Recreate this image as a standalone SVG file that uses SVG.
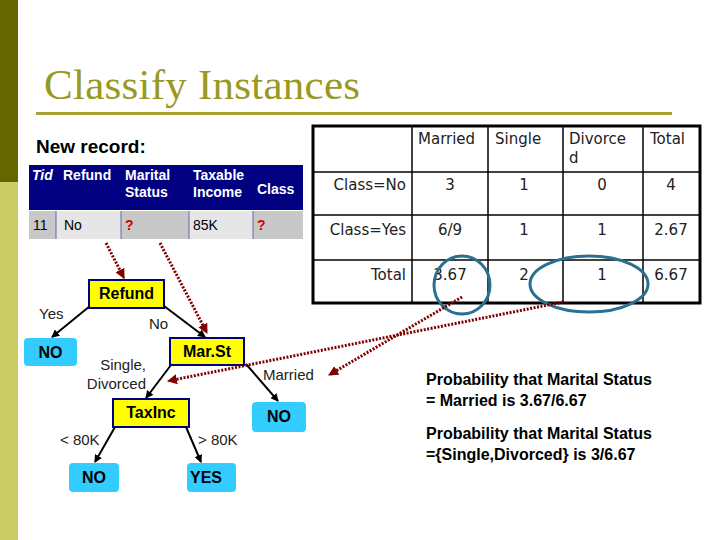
<svg xmlns="http://www.w3.org/2000/svg" width="720" height="540" viewBox="0 0 720 540">
<defs>
<marker id="ah" markerWidth="8" markerHeight="8" refX="7" refY="4" orient="auto" markerUnits="userSpaceOnUse"><path d="M0,0 L8,4 L0,8 z" fill="#000"/></marker>
<marker id="rh" markerWidth="10" markerHeight="10" refX="9" refY="5" orient="auto" markerUnits="userSpaceOnUse"><path d="M0,0 L10,5 L0,10 z" fill="#800000"/></marker>
<style>
.s{font-family:"Liberation Sans",Arial,sans-serif}
.dv{font-family:"DejaVu Sans",sans-serif;font-size:15px;fill:#222}
.hd{font-family:"Liberation Sans",Arial,sans-serif;font-weight:bold;font-size:14px;fill:#fff}
.yb{fill:#ffff00;stroke:#000080;stroke-width:2}
.lf{fill:#33ccff}
.nt{font-family:"Liberation Sans",Arial,sans-serif;font-weight:bold;font-size:16px;fill:#000;text-anchor:middle}
.el{font-family:"Liberation Sans",Arial,sans-serif;font-size:15px;fill:#222}
.e{stroke:#000;stroke-width:2;fill:none;marker-end:url(#ah)}
.r{stroke:#800000;stroke-width:3;stroke-dasharray:2 1.5;fill:none;marker-end:url(#rh)}
.g{stroke:#000;stroke-width:1.5;fill:none}
.p{font-family:"Liberation Sans",Arial,sans-serif;font-weight:bold;font-size:16px;fill:#000}
</style>
</defs>
<rect width="720" height="540" fill="#fff"/>
<rect x="0" y="0" width="18" height="182" fill="#666600"/>
<rect x="0" y="182" width="18" height="358" fill="#cccc66"/>
<text x="44" y="99" font-family="Liberation Serif,serif" font-size="43" fill="#999922" textLength="316">Classify Instances</text>
<rect x="36" y="112" width="636" height="3" fill="#a8a030"/>
<text x="36" y="153" class="s" font-weight="bold" font-size="19" fill="#000">New record:</text>
<g id="record">
<rect x="29" y="165" width="274" height="45" fill="#000080"/>
<rect x="29" y="211" width="274" height="28" fill="#e6e6e6"/>
<rect x="29" y="211" width="27" height="28" fill="#c8c8c8"/>
<rect x="121" y="211" width="68" height="28" fill="#c8c8c8"/>
<rect x="253" y="211" width="50" height="28" fill="#c8c8c8"/>
<g stroke="#6666aa" stroke-width="1"><line x1="56" y1="211" x2="56" y2="239"/><line x1="121" y1="211" x2="121" y2="239"/><line x1="189" y1="211" x2="189" y2="239"/><line x1="253" y1="211" x2="253" y2="239"/></g>
<text x="32" y="180" class="hd" font-style="italic" font-weight="normal">Tid</text>
<text x="63" y="180" class="hd">Refund</text>
<text x="125" y="180" class="hd">Marital</text><text x="125" y="197" class="hd">Status</text>
<text x="193" y="180" class="hd">Taxable</text><text x="193" y="197" class="hd">Income</text>
<text x="257" y="194" class="hd">Class</text>
<g class="s" font-size="14"><text x="33" y="230">11</text><text x="64" y="230">No</text><text x="125" y="230" fill="#cc0000" font-weight="bold">?</text><text x="193" y="230">85K</text><text x="257" y="230" fill="#cc0000" font-weight="bold">?</text></g>
</g>
<g id="counts">
<rect x="313" y="126" width="387" height="177" fill="none" stroke="#000" stroke-width="3"/>
<g class="g"><line x1="313" y1="172" x2="700" y2="172"/><line x1="313" y1="215" x2="700" y2="215"/><line x1="313" y1="260" x2="700" y2="260"/><line x1="412" y1="126" x2="412" y2="303"/><line x1="488" y1="126" x2="488" y2="303"/><line x1="563" y1="126" x2="563" y2="303"/><line x1="643" y1="126" x2="643" y2="303"/></g>
<text x="418" y="144" class="dv">Married</text><text x="495" y="144" class="dv">Single</text><text x="569" y="144" class="dv">Divorce</text><text x="569" y="163" class="dv">d</text><text x="650" y="144" class="dv">Total</text>
<g class="dv" text-anchor="end"><text x="406" y="190">Class=No</text><text x="406" y="235">Class=Yes</text><text x="406" y="280">Total</text></g>
<g class="dv" text-anchor="middle"><text x="450" y="190">3</text><text x="524" y="190">1</text><text x="602" y="190">0</text><text x="671" y="190">4</text>
<text x="450" y="235">6/9</text><text x="524" y="235">1</text><text x="602" y="235">1</text><text x="671" y="235">2.67</text>
<text x="450" y="280">3.67</text><text x="524" y="280">2</text><text x="602" y="280">1</text><text x="671" y="280">6.67</text></g>
<ellipse cx="462" cy="285" rx="28" ry="29" fill="none" stroke="#2a7090" stroke-width="3"/>
<ellipse cx="589" cy="284" rx="59" ry="28" fill="none" stroke="#2a7090" stroke-width="3"/>
</g>
<g id="connectors">
<line class="e" x1="90" y1="306" x2="52" y2="337"/>
<line class="e" x1="164" y1="306" x2="205" y2="337"/>
<line class="e" x1="171" y1="365" x2="146" y2="398"/>
<line class="e" x1="246" y1="364" x2="278" y2="401"/>
<line class="e" x1="115" y1="427" x2="95" y2="462"/>
<line class="e" x1="186" y1="427" x2="201" y2="462"/>
<line class="r" x1="106" y1="243" x2="124" y2="278"/>
<line class="r" x1="160" y1="243" x2="207" y2="333"/>
<line class="r" x1="462" y1="297" x2="329" y2="375"/>
<line class="r" x1="563" y1="302" x2="168" y2="381"/>
</g>
<g id="refund"><rect class="yb" x="89" y="280" width="75" height="28"/><text x="126.5" y="299" class="nt">Refund</text></g>
<g id="no1"><rect class="lf" x="24" y="338" width="53" height="28" rx="4"/><text x="50.5" y="358" class="nt">NO</text></g>
<g id="marst"><rect class="yb" x="170" y="338" width="74" height="27"/><text x="207" y="357" class="nt">Mar.St</text></g>
<g id="taxinc"><rect class="yb" x="113" y="399" width="76" height="28"/><text x="151" y="418" class="nt" font-weight="normal">TaxInc</text></g>
<g id="no2"><rect class="lf" x="252" y="402" width="54" height="30" rx="4"/><text x="279" y="422" class="nt">NO</text></g>
<g id="no3"><rect class="lf" x="69" y="463" width="50" height="29" rx="4"/><text x="94" y="483" class="nt">NO</text></g>
<g id="yes"><rect class="lf" x="187" y="463" width="49" height="29" rx="4"/><text x="206" y="483" class="nt" font-weight="normal">YES</text></g>
<g class="el"><text x="39" y="319">Yes</text><text x="149" y="329">No</text><text x="146" y="370" text-anchor="end">Single,</text><text x="146" y="389" text-anchor="end">Divorced</text><text x="263" y="380">Married</text><text x="60" y="445">&lt; 80K</text><text x="198" y="445">&gt; 80K</text></g>
<g class="p"><text x="426" y="385">Probability that Marital Status</text><text x="426" y="406">= Married is 3.67/6.67</text><text x="426" y="439">Probability that Marital Status</text><text x="426" y="460">={Single,Divorced} is 3/6.67</text></g>
</svg>
